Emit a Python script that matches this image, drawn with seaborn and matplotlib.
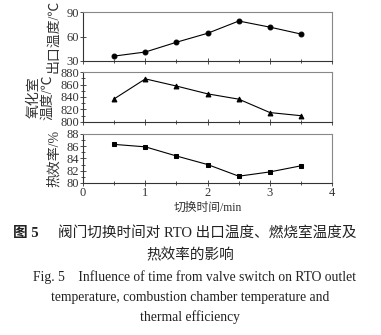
import matplotlib
matplotlib.use("Agg")
import matplotlib.pyplot as plt
import seaborn as sns
import pandas as pd
from matplotlib.ticker import MultipleLocator

# switching time (min)
switch_time = [0.5, 1.0, 1.5, 2.0, 2.5, 3.0, 3.5]
# RTO outlet temperature (°C)
outlet_temp = [36, 41, 53, 64, 79, 71.5, 63]
# oxidation chamber temperature (°C)
chamber_temp = [837, 869, 857.5, 845, 836.5, 815, 810]
# thermal efficiency (%)
efficiency = [86.3, 85.9, 84.4, 83.0, 81.1, 81.8, 82.8]

sns.set_style("ticks")
plt.rcParams['font.family'] = ['Liberation Serif', 'Noto Sans CJK SC']
plt.rcParams['font.size'] = 8

df = pd.DataFrame({"t": switch_time, "outlet": outlet_temp,
                   "chamber": chamber_temp, "eff": efficiency})

fig = plt.figure(figsize=(3.81, 3.35), dpi=100)
left, width = 0.218, 0.654
ax1 = fig.add_axes([left, 0.818, width, 0.146])
ax2 = fig.add_axes([left, 0.636, width, 0.149])
ax3 = fig.add_axes([left, 0.454, width, 0.146])

panels = [
    (ax1, "outlet", "o", (30, 90), 30, None, "出口温度/℃"),
    (ax2, "chamber", "^", (800, 880), 20, 10, "氧化室\n温度/℃"),
    (ax3, "eff", "s", (80, 88), 2, 1, "热效率/%"),
]

for ax, col, mk, ylim, major, minor, label in panels:
    sns.lineplot(data=df, x="t", y=col, marker=mk, color="black",
                 linewidth=0.8, markersize=3.5, markeredgecolor="black",
                 ax=ax)
    ax.set_xlim(0, 4)
    ax.set_ylim(*ylim)
    ax.yaxis.set_major_locator(MultipleLocator(major))
    if minor:
        ax.yaxis.set_minor_locator(MultipleLocator(minor))
    ax.xaxis.set_major_locator(MultipleLocator(1))
    ax.xaxis.set_minor_locator(MultipleLocator(0.5))
    ax.tick_params(which="both", direction="inout", length=4, width=0.6,
                   labelsize=9, pad=1, colors="#333333")
    ax.tick_params(which="minor", length=2.5)
    for side in ["left", "bottom"]:
        ax.spines[side].set_color("#333333")
        ax.spines[side].set_linewidth(0.8)
    for side in ["top", "right"]:
        ax.spines[side].set_color("#888888")
        ax.spines[side].set_linewidth(0.8)
    ax.set_xlabel("")
    ax.set_ylabel(label, fontsize=10, color="#333333", labelpad=4,
                  linespacing=1.1)
    if ax is not ax3:
        ax.set_xticklabels([])

ax3.set_xlabel("切换时间/min", fontsize=8.5, color="#333333", labelpad=2)

cap = dict(ha="center", va="center", color="#222222")
fig.text(0.034, 0.304, "图 5", fontsize=10.5, fontweight="bold",
         ha="left", va="center", color="#222222")
fig.text(0.545, 0.304, "阀门切换时间对 RTO 出口温度、燃烧室温度及",
         fontsize=10.5, **cap)
fig.text(0.5, 0.239, "热效率的影响", fontsize=10.5, **cap)
fig.text(0.51, 0.173,
         "Fig. 5    Influence of time from valve switch on RTO outlet",
         fontsize=9.8, **cap)
fig.text(0.5, 0.113,
         "temperature, combustion chamber temperature and",
         fontsize=9.8, **cap)
fig.text(0.5, 0.054, "thermal efficiency", fontsize=9.8, **cap)

fig.savefig("out.png", dpi=100)
